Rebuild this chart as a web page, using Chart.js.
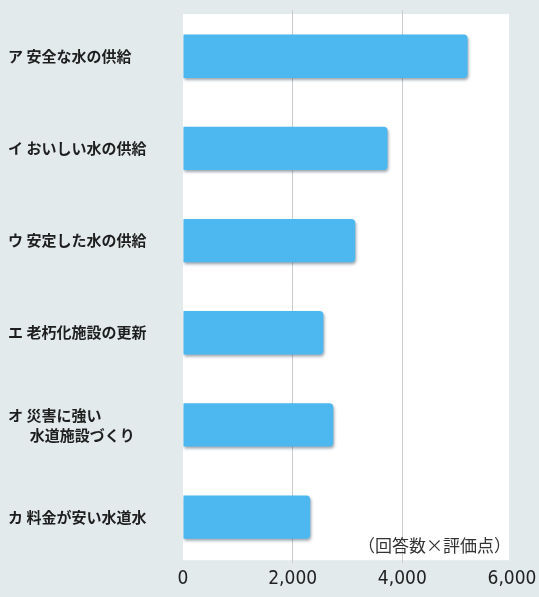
<!DOCTYPE html>
<html>
<head>
<meta charset="utf-8">
<script src="https://cdn.jsdelivr.net/npm/chart.js@4"></script>
<style>
  html, body { margin: 0; padding: 0; background: #e2eaec; }
  #wrap { width: 539px; height: 597px; }
</style>
</head>
<body>
<div id="wrap"><canvas id="myChart"></canvas></div>
<script>
// data
const categories = [
  'ア 安全な水の供給',
  'イ おいしい水の供給',
  'ウ 安定した水の供給',
  'エ 老朽化施設の更新',
  ['オ 災害に強い', '　  水道施設づくり'],
  'カ 料金が安い水道水'
];
const scores = [5190, 3730, 3140, 2560, 2740, 2320];
const xTickLabels = ['0', '2,000', '4,000', '6,000'];
const unitNote = '（回答数×評価点）';

const FONT = '"Noto Sans CJK JP", "Noto Sans", sans-serif';

// white plot area + shadow under bars + the unit note
const decor = {
  id: 'decor',
  beforeDraw(chart) {
    const { ctx, chartArea: a } = chart;
    ctx.save();
    ctx.fillStyle = '#ffffff';
    ctx.fillRect(a.left, a.top + 4, a.right - a.left - 3, a.bottom - a.top - 7);
    ctx.restore();
  },
  beforeDatasetsDraw(chart) {
    const ctx = chart.ctx;
    ctx.save();
    ctx.shadowColor = 'rgba(40, 60, 80, 0.45)';
    ctx.shadowBlur = 3;
    ctx.shadowOffsetY = 2;
    ctx.shadowOffsetX = 1;
  },
  afterDatasetsDraw(chart) {
    chart.ctx.restore();
  },
  afterDraw(chart) {
    const { ctx, chartArea: a } = chart;
    ctx.save();
    ctx.font = '17px ' + FONT;
    ctx.fillStyle = '#333';
    ctx.textAlign = 'right';
    ctx.textBaseline = 'middle';
    ctx.fillText(unitNote, a.right - 1, a.bottom - 18);
    ctx.restore();
  }
};

new Chart(document.getElementById('myChart'), {
  type: 'bar',
  data: {
    labels: categories,
    datasets: [{
      data: scores,
      backgroundColor: (c) => {
        const { ctx, chartArea } = c.chart;
        if (!chartArea) return '#4cb8ef';
        const el = c.element;
        if (!el || el.height === undefined) return '#4cb8ef';
        const top = el.y - el.height / 2;
        const g = ctx.createLinearGradient(0, top, 0, top + el.height);
        g.addColorStop(0, '#5ac6f6');
        g.addColorStop(0.5, '#50bcf2');
        g.addColorStop(1, '#359fdc');
        return g;
      },
      borderRadius: 4,
      borderSkipped: 'start',
      categoryPercentage: 1,
      barPercentage: 0.47
    }]
  },
  options: {
    indexAxis: 'y',
    responsive: true,
    maintainAspectRatio: false,
    animation: false,
    layout: { padding: { left: 8, right: 27, top: 8, bottom: 3 } },
    plugins: { legend: { display: false }, tooltip: { enabled: false } },
    scales: {
      x: {
        min: 0,
        max: 6000,
        afterBuildTicks: (axis) => {
          axis.ticks = xTickLabels.map((t) => ({ value: Number(t.replace(',', '')) }));
        },
        afterFit: (axis) => { axis.paddingLeft = 0; axis.paddingRight = 0; },
        ticks: {
          callback: (v, i) => xTickLabels[i],
          color: '#222',
          padding: 4,
          maxRotation: 0,
          font: { family: '"DejaVu Sans Condensed", "DejaVu Sans", sans-serif', size: 19 }
        },
        grid: {
          drawTicks: false,
          color: (c) => (c.tick && (c.tick.value === 2000 || c.tick.value === 4000)) ? '#c9cccd' : 'rgba(0,0,0,0)',
          lineWidth: 1
        },
        border: { display: false }
      },
      y: {
        afterFit: (axis) => { axis.width = 175; },
        ticks: {
          crossAlign: 'far',
          color: '#1e1e1e',
          padding: 0,
          font: { family: FONT, size: 15, weight: 'bold', lineHeight: 1.35 }
        },
        grid: { display: false, drawTicks: false },
        border: { display: false }
      }
    }
  },
  plugins: [decor]
});
</script>
</body>
</html>
